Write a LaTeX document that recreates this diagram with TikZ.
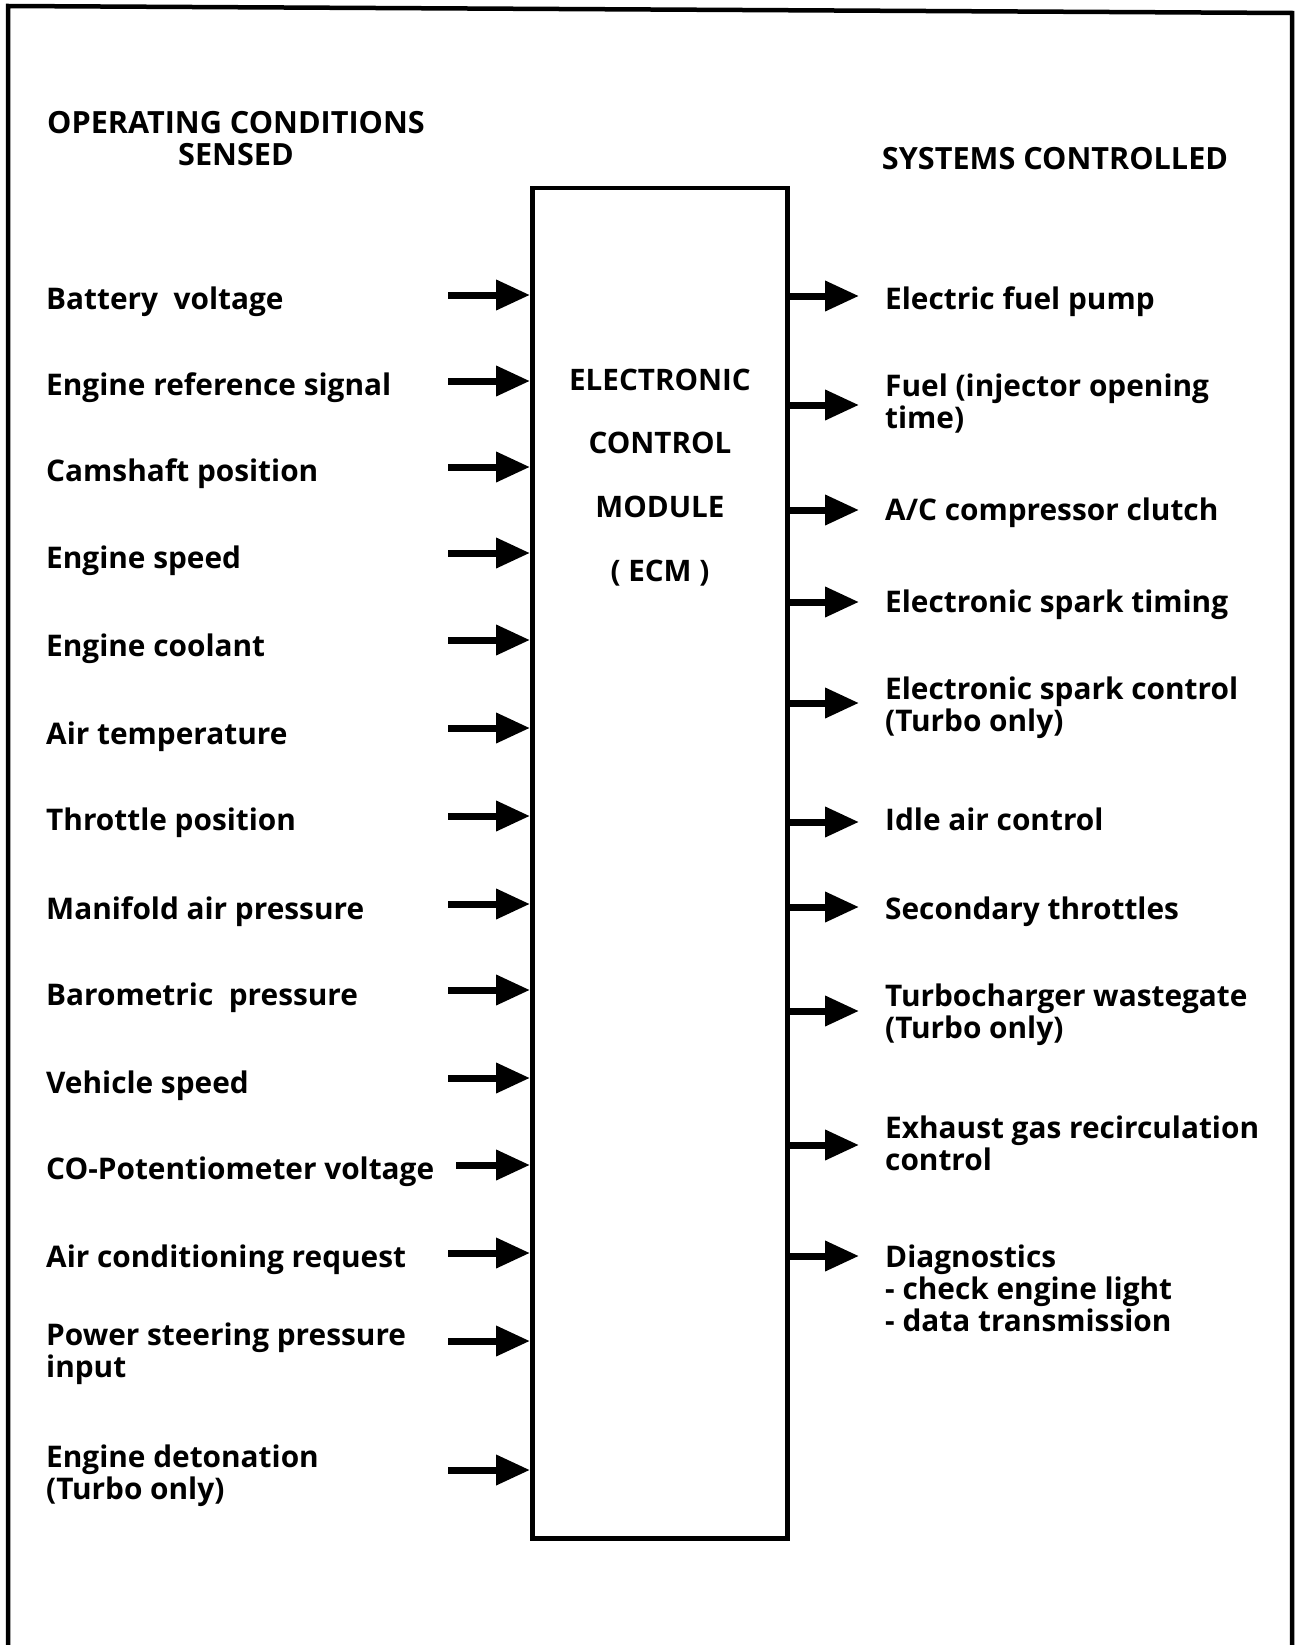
\documentclass[tikz,border=0pt]{standalone}
\usepackage{fontspec}
\setmainfont{Open Sans}
\usetikzlibrary{arrows.meta}
\begin{document}
\begin{tikzpicture}[x=1pt,y=-1pt,
  lbl/.style={anchor=base west, inner sep=0pt, font=\fontsize{29.8}{32}\selectfont\bfseries, align=left},
  hdr/.style={anchor=base, inner sep=0pt, font=\fontsize{30.6}{33}\selectfont\bfseries},
  ecmtxt/.style={anchor=base, inner sep=0pt, font=\fontsize{29.6}{30}\selectfont\bfseries},
  arr/.style={line width=7pt, -{Triangle[length=34pt,width=29pt]}},
  frame/.style={line width=4.5pt, line join=miter},
  ]
\useasboundingbox (0,0) rectangle (1299,1645);
\draw[frame] (8,1670) -- (8,6) -- (1292,13) -- (1292,1670);

% headers
\node[hdr] (h1) at (236,134) {OPERATING CONDITIONS};
\node[hdr] (h2) at (236,166) {SENSED};
\node[hdr] (h3) at (1055,170) {SYSTEMS CONTROLLED};

% ECM box
\node[draw, line width=4.5pt, minimum width=255pt, minimum height=1350pt, inner sep=0pt, anchor=north west] (ecm) at (530,186) {};
\node[ecmtxt] (e1) at (660,390) {ELECTRONIC};
\node[ecmtxt] (e2) at (660,453) {CONTROL};
\node[ecmtxt] (e3) at (660,517) {MODULE};
\node[ecmtxt] (e4) at (660,581) {( ECM )};

% left labels (y = baseline of last line)
\node[lbl] (l1) at (46,309) {Battery\ \ voltage};
\node[lbl] (l2) at (46,395) {Engine reference signal};
\node[lbl] (l3) at (46,481) {Camshaft position};
\node[lbl] (l4) at (46,568) {Engine speed};
\node[lbl] (l5) at (46,656) {Engine coolant};
\node[lbl] (l6) at (46,744) {Air temperature};
\node[lbl] (l7) at (46,830) {Throttle position};
\node[lbl] (l8) at (46,919) {Manifold air pressure};
\node[lbl] (l9) at (46,1005) {Barometric\ \ pressure};
\node[lbl] (l10) at (46,1093) {Vehicle speed};
\node[lbl] (l11) at (46,1179) {CO-Potentiometer voltage};
\node[lbl] (l12) at (46,1267) {Air conditioning request};
\node[lbl] (l13) at (46,1377) {Power steering pressure\\input};
\node[lbl] (l14) at (46,1499) {Engine detonation\\(Turbo only)};

% right labels
\node[lbl] (r1) at (885,309) {Electric fuel pump};
\node[lbl] (r2) at (885,428) {Fuel (injector opening\\time)};
\node[lbl] (r3) at (885,520) {A/C compressor clutch};
\node[lbl] (r4) at (885,612) {Electronic spark timing};
\node[lbl] (r5) at (885,731) {Electronic spark control\\(Turbo only)};
\node[lbl] (r6) at (885,830) {Idle air control};
\node[lbl] (r7) at (885,919) {Secondary throttles};
\node[lbl] (r8) at (885,1038) {Turbocharger wastegate\\(Turbo only)};
\node[lbl] (r9) at (885,1170) {Exhaust gas recirculation\\control};
\node[lbl] (r10) at (885,1331) {Diagnostics\\- check engine light\\- data transmission};

% left arrow tails
\coordinate (a1) at (448,295);
\coordinate (a2) at (448,381);
\coordinate (a3) at (448,467);
\coordinate (a4) at (448,553);
\coordinate (a5) at (448,640);
\coordinate (a6) at (448,728);
\coordinate (a7) at (448,816);
\coordinate (a8) at (448,904);
\coordinate (a9) at (448,990);
\coordinate (a10) at (448,1078);
\coordinate (a11) at (456,1165);
\coordinate (a12) at (448,1253);
\coordinate (a13) at (448,1341);
\coordinate (a14) at (448,1470);
\foreach \i in {1,...,14} \draw[arr] (a\i) -- (a\i -| ecm.west);

% right arrow tips
\coordinate (b1) at (859,296);
\coordinate (b2) at (859,405);
\coordinate (b3) at (859,510);
\coordinate (b4) at (859,602);
\coordinate (b5) at (859,703);
\coordinate (b6) at (859,822);
\coordinate (b7) at (859,907);
\coordinate (b8) at (859,1011);
\coordinate (b9) at (859,1145);
\coordinate (b10) at (859,1256);
\foreach \i in {1,...,10} \draw[arr] (b\i -| ecm.east) -- (b\i);
\end{tikzpicture}
\end{document}
